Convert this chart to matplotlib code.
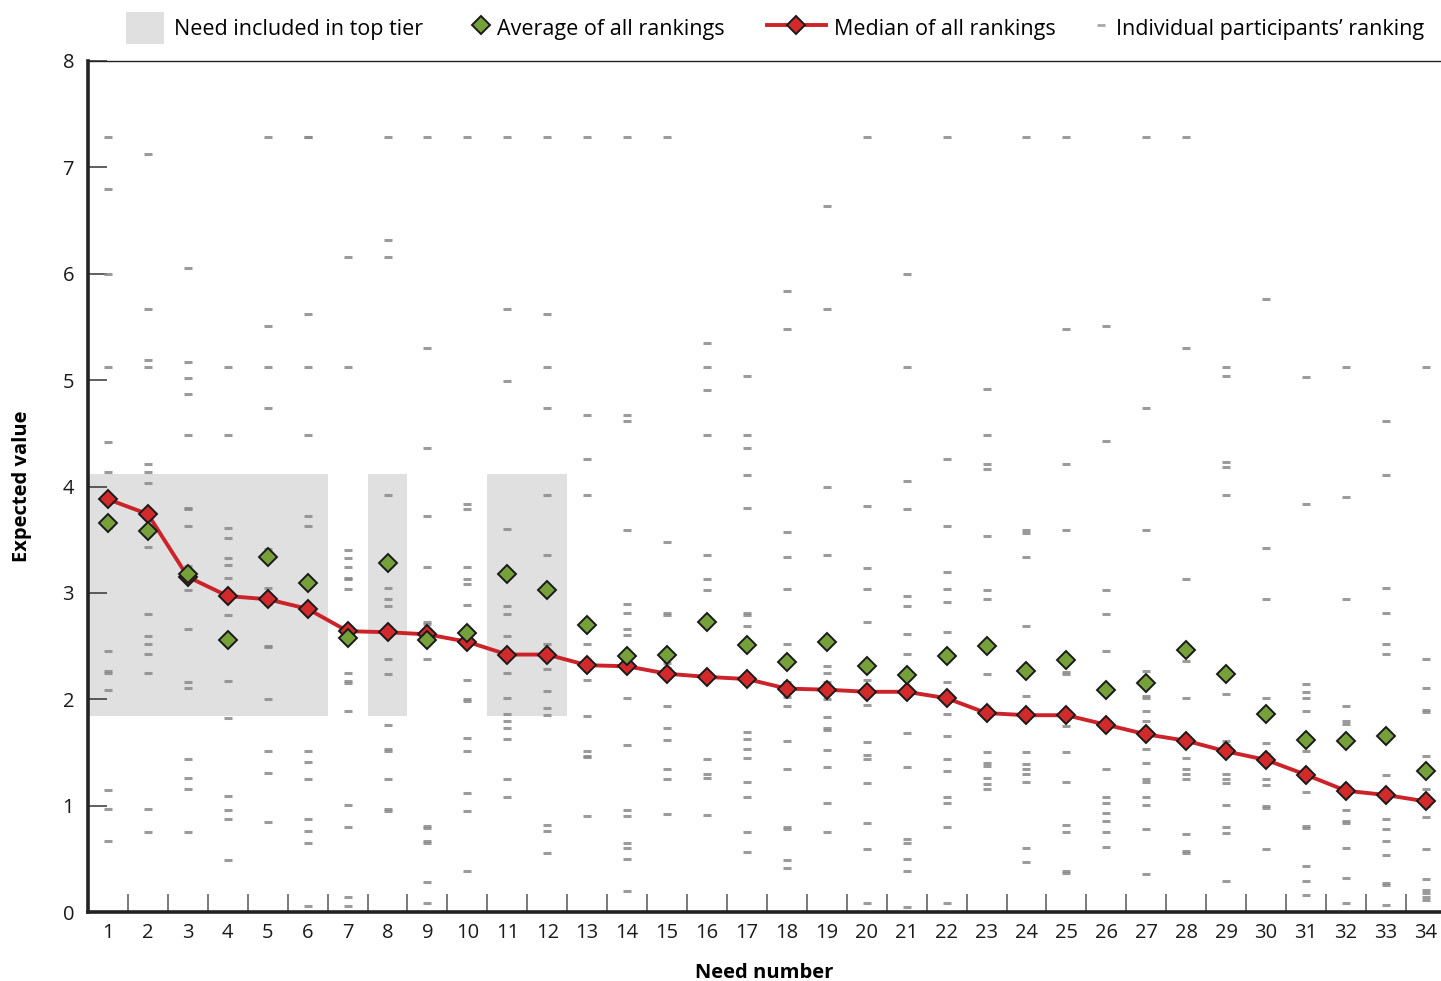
import matplotlib
matplotlib.use("Agg")
import matplotlib.pyplot as plt
import matplotlib.patches as mpatches
from matplotlib.lines import Line2D

plt.rcParams['font.family'] = ['Open Sans', 'DejaVu Sans']

# need numbers 1..34
needs = list(range(1, 35))

median_vals = [3.88, 3.74, 3.15, 2.97, 2.94, 2.85, 2.64, 2.63, 2.61, 2.54,
               2.42, 2.42, 2.32, 2.31, 2.24, 2.21, 2.19, 2.10, 2.09, 2.07,
               2.07, 2.01, 1.87, 1.85, 1.85, 1.76, 1.67, 1.61, 1.51, 1.43,
               1.29, 1.14, 1.10, 1.04]

average_vals = [3.66, 3.58, 3.18, 2.56, 3.34, 3.09, 2.58, 3.28, 2.56, 2.62,
                3.18, 3.03, 2.70, 2.41, 2.42, 2.73, 2.51, 2.35, 2.54, 2.31,
                2.23, 2.41, 2.50, 2.27, 2.37, 2.09, 2.15, 2.46, 2.24, 1.86,
                1.62, 1.61, 1.65, 1.33]

# needs in the top tier and the band they are shaded over
top_tier = [1, 2, 3, 4, 5, 6, 8, 11, 12]
tier_low = 1.84
tier_high = 4.12

# individual participants' rankings per need
individual = [
    [7.29, 6.80, 6.00, 5.12, 4.42, 4.14, 3.88, 3.61, 2.45, 2.27, 2.25, 2.09, 1.15, 0.97, 0.67],
    [7.13, 5.67, 5.19, 5.12, 4.21, 4.14, 4.03, 3.74, 3.43, 2.80, 2.59, 2.52, 2.43, 2.25, 0.97, 0.75],
    [6.05, 5.17, 5.02, 4.87, 4.48, 3.80, 3.79, 3.63, 3.25, 3.13, 3.03, 2.66, 2.16, 2.11, 1.44, 1.26, 1.16, 0.75],
    [5.12, 4.48, 3.61, 3.52, 3.33, 3.26, 3.14, 2.97, 2.79, 2.17, 1.82, 1.09, 0.96, 0.87, 0.49],
    [7.29, 5.51, 5.12, 4.74, 3.41, 3.05, 2.96, 2.90, 2.50, 2.49, 2.00, 1.51, 1.31, 0.85],
    [7.29, 7.29, 5.62, 5.12, 4.48, 3.72, 3.63, 2.88, 2.85, 1.51, 1.41, 1.25, 0.87, 0.76, 0.65, 0.06],
    [6.16, 5.12, 3.40, 3.33, 3.24, 3.14, 3.13, 3.04, 2.65, 2.58, 2.25, 2.17, 2.15, 1.89, 1.01, 0.80, 0.14, 0.06],
    [7.29, 6.32, 6.16, 3.92, 3.05, 2.94, 2.88, 2.63, 2.38, 2.24, 1.76, 1.53, 1.51, 1.25, 0.97, 0.95],
    [7.29, 5.30, 4.36, 3.72, 3.24, 2.73, 2.71, 2.61, 2.38, 0.81, 0.79, 0.67, 0.65, 0.28, 0.08],
    [7.29, 3.84, 3.79, 3.24, 3.13, 3.08, 2.89, 2.62, 2.54, 2.18, 2.00, 1.98, 1.64, 1.51, 1.12, 0.95, 0.39],
    [7.29, 5.67, 4.99, 3.60, 2.88, 2.80, 2.59, 2.42, 2.25, 2.01, 1.86, 1.80, 1.73, 1.63, 1.25, 1.08],
    [7.29, 5.62, 5.12, 4.74, 3.92, 3.36, 2.52, 2.42, 2.28, 2.08, 1.92, 1.85, 0.82, 0.76, 0.55],
    [7.29, 4.67, 4.26, 3.92, 2.52, 2.37, 2.32, 2.31, 2.18, 1.84, 1.51, 1.47, 1.46, 0.90],
    [7.29, 4.67, 4.62, 3.59, 2.90, 2.81, 2.66, 2.60, 2.31, 2.01, 1.57, 0.96, 0.90, 0.65, 0.60, 0.50, 0.20],
    [7.29, 3.48, 2.81, 2.79, 2.34, 2.29, 2.25, 1.94, 1.73, 1.62, 1.34, 1.25, 0.92],
    [5.35, 5.12, 4.91, 4.48, 3.36, 3.13, 3.03, 2.26, 2.21, 2.18, 1.44, 1.30, 1.26, 0.91],
    [5.04, 4.48, 4.36, 4.11, 3.80, 2.81, 2.79, 2.69, 2.19, 1.69, 1.63, 1.53, 1.45, 1.22, 1.08, 0.75, 0.56],
    [5.84, 5.48, 3.57, 3.34, 3.04, 2.52, 2.16, 2.10, 2.02, 1.94, 1.61, 1.34, 0.80, 0.78, 0.49, 0.41],
    [6.64, 5.67, 4.00, 3.36, 2.31, 2.25, 2.16, 2.09, 2.00, 1.83, 1.73, 1.71, 1.52, 1.36, 1.02, 0.75],
    [7.29, 3.82, 3.23, 3.04, 2.73, 2.18, 2.07, 1.95, 1.60, 1.48, 1.44, 1.21, 0.84, 0.59, 0.08],
    [6.00, 5.12, 4.05, 3.79, 2.97, 2.88, 2.61, 2.43, 2.07, 1.68, 1.36, 0.69, 0.65, 0.50, 0.39, 0.05],
    [7.29, 4.26, 3.63, 3.20, 3.04, 2.91, 2.63, 2.16, 2.01, 1.86, 1.65, 1.44, 1.33, 1.08, 1.02, 0.80, 0.08],
    [4.92, 4.48, 4.21, 4.16, 3.53, 3.03, 2.94, 2.24, 1.87, 1.50, 1.40, 1.37, 1.26, 1.20, 1.16],
    [7.29, 3.59, 3.56, 3.34, 2.69, 2.03, 1.90, 1.85, 1.50, 1.39, 1.34, 1.30, 1.22, 0.60, 0.47],
    [7.29, 5.48, 4.21, 3.59, 2.26, 2.24, 1.85, 1.75, 1.50, 1.22, 0.82, 0.75, 0.39, 0.37],
    [5.51, 4.43, 3.03, 2.80, 2.45, 1.80, 1.76, 1.73, 1.34, 1.08, 1.02, 0.93, 0.86, 0.75, 0.61],
    [7.29, 4.74, 3.59, 2.27, 2.03, 2.01, 1.89, 1.80, 1.67, 1.53, 1.40, 1.25, 1.22, 1.08, 1.01, 0.78, 0.36],
    [7.29, 5.30, 3.13, 2.36, 2.01, 1.61, 1.60, 1.45, 1.34, 1.30, 1.25, 0.73, 0.57, 0.55],
    [5.12, 5.04, 4.23, 4.18, 3.92, 2.05, 1.61, 1.57, 1.51, 1.49, 1.30, 1.25, 1.21, 1.01, 0.80, 0.74, 0.29],
    [5.76, 3.42, 2.94, 2.01, 1.59, 1.49, 1.43, 1.25, 1.19, 1.00, 0.98, 0.59],
    [5.03, 3.84, 2.14, 2.07, 2.01, 1.89, 1.51, 1.29, 1.13, 0.81, 0.79, 0.43, 0.29, 0.16],
    [5.12, 3.90, 2.94, 1.94, 1.80, 1.77, 1.14, 1.12, 0.96, 0.86, 0.84, 0.60, 0.32, 0.08],
    [4.62, 4.11, 3.05, 2.81, 2.52, 2.43, 1.29, 1.10, 0.87, 0.78, 0.67, 0.54, 0.27, 0.25, 0.07],
    [5.12, 2.38, 2.11, 1.90, 1.88, 1.47, 1.16, 1.05, 1.00, 0.89, 0.59, 0.31, 0.21, 0.18, 0.14, 0.11],
]

shade_color = '#e0e0e0'
dash_color = '#8a8a8a'
green = '#76a03a'
red = '#d22a2a'
line_red = '#cc2229'
edge = '#1a1a1a'

fig = plt.figure(figsize=(14.41, 9.81), dpi=100)
ax = fig.add_axes([88 / 1441, 69 / 981, 1353 / 1441, 851 / 981])

# top tier shading
ax.bar(top_tier, tier_high - tier_low, bottom=tier_low, width=1.0,
       color=shade_color, edgecolor='none', zorder=1)

# individual rankings as short dashes
for n, vals in zip(needs, individual):
    ax.plot([n] * len(vals), vals, linestyle='none', marker='_',
            markersize=6, markeredgewidth=2.2, color=dash_color,
            alpha=0.85, zorder=2)

# median line
ax.plot(needs, median_vals, color=line_red, linewidth=2.8, zorder=3)
ax.plot(needs, median_vals, linestyle='none', marker='D', markersize=9.5,
        markerfacecolor=red, markeredgecolor=edge, markeredgewidth=1.4,
        zorder=4)

# averages
ax.plot(needs, average_vals, linestyle='none', marker='D', markersize=9.5,
        markerfacecolor=green, markeredgecolor=edge, markeredgewidth=1.4,
        zorder=5)

ax.set_xlim(0.5, 34.38)
ax.set_ylim(0, 8)

ax.set_xticks(needs)
ax.set_xticks([n + 0.5 for n in needs[:-1]], minor=True)
ax.set_yticks(range(0, 9))
ax.tick_params(axis='x', which='major', length=0, pad=8, labelsize=14.5,
               colors='#1a1a1a')
ax.tick_params(axis='x', which='minor', direction='in', length=13,
               width=1.1, color='#555555')
ax.tick_params(axis='y', direction='in', length=14, width=1.1,
               color='#333333', pad=10, labelsize=14.5, labelcolor='#1a1a1a')

ax.spines['right'].set_visible(False)
ax.spines['top'].set_linewidth(1.0)
ax.spines['left'].set_linewidth(2.6)
ax.spines['bottom'].set_linewidth(2.6)
for s in ['left', 'bottom', 'top']:
    ax.spines[s].set_color('#222222')

ax.set_xlabel('Need number', fontsize=14.5, fontweight='bold', labelpad=14)
ax.set_ylabel('Expected value', fontsize=14.5, fontweight='bold', labelpad=22)

# legend: one small legend per item so each handle gets its own width
legend_items = [
    (mpatches.Patch(facecolor=shade_color, edgecolor='none'),
     'Need included in top tier', 126, 1.77, 0.47, 1.9),
    (Line2D([], [], linestyle='none', marker='D', markersize=9.5,
            markerfacecolor=green, markeredgecolor=edge, markeredgewidth=1.4),
     'Average of all rankings', 473, 0.7, 0.4, 1.49),
    (Line2D([], [], color=line_red, linewidth=2.8, marker='D', markersize=9.5,
            markerfacecolor=red, markeredgecolor=edge, markeredgewidth=1.4),
     'Median of all rankings', 767, 2.74, 0.37, 1.49),
    (Line2D([], [], linestyle='none', marker='_', markersize=6,
            markeredgewidth=2.0, color='#a8a8a8'),
     'Individual participants\u2019 ranking', 1097, 0.4, 0.47, 1.49),
]
for handle, label, x_px, hlen, hpad, hheight in legend_items:
    fig.legend([handle], [label], loc='center left', frameon=False,
               bbox_to_anchor=(x_px / 1441, 1 - 28 / 981),
               fontsize=15.5, handlelength=hlen, handleheight=hheight,
               handletextpad=hpad, borderpad=0, borderaxespad=0)

fig.savefig('out.png', dpi=100)
